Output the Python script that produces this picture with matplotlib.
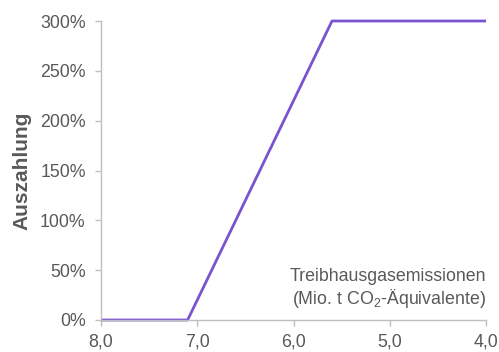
import matplotlib
matplotlib.use("Agg")
import matplotlib.pyplot as plt
from matplotlib.ticker import FuncFormatter

plt.rcParams['font.family'] = ['Liberation Sans', 'DejaVu Sans']
plt.rcParams['mathtext.fontset'] = 'custom'
plt.rcParams['mathtext.rm'] = 'Liberation Sans'
plt.rcParams['mathtext.it'] = 'Liberation Sans'

emissions = [8.0, 7.1, 5.6, 4.0]
payout = [0, 0, 300, 300]
x_ticks = [8.0, 7.0, 6.0, 5.0, 4.0]
y_ticks = [0, 50, 100, 150, 200, 250, 300]

gray = '#595959'
axis_gray = '#BFBFBF'

fig = plt.figure(figsize=(4.99, 3.52), dpi=100)
ax = fig.add_axes([101/499, 1-320/352, (486-101)/499, (320-21)/352])
ax.plot(emissions, payout, color='#7B52D0', lw=2.0, solid_capstyle='butt', clip_on=False)
ax.set_xlim(8.0, 4.0)
ax.set_ylim(0, 300)
ax.set_xticks(x_ticks)
ax.set_yticks(y_ticks)
ax.xaxis.set_major_formatter(FuncFormatter(lambda v, p: f"{v:.1f}".replace('.', ',')))
ax.yaxis.set_major_formatter(FuncFormatter(lambda v, p: f"{int(v)}%"))
for s in ['top', 'right']:
    ax.spines[s].set_visible(False)
for s in ['left', 'bottom']:
    ax.spines[s].set_color(axis_gray)
    ax.spines[s].set_linewidth(1.0)
ax.tick_params(axis='both', colors=axis_gray, labelcolor=gray, labelsize=12.8, length=4, width=1.0, direction='out')
ax.tick_params(axis='x', pad=6)
ax.tick_params(axis='y', pad=7)
ax.set_ylabel('Auszahlung', fontsize=15, fontweight='bold', color=gray, labelpad=6)
ax.text(1.0, 0.145, 'Treibhausgasemissionen', transform=ax.transAxes, ha='right', va='center', fontsize=12.8, color=gray)
ax.text(1.0, 0.072, r'(Mio. t CO$_2$-Äquivalente)', transform=ax.transAxes, ha='right', va='center', fontsize=12.8, color=gray)
fig.savefig('out.png', dpi=100)
